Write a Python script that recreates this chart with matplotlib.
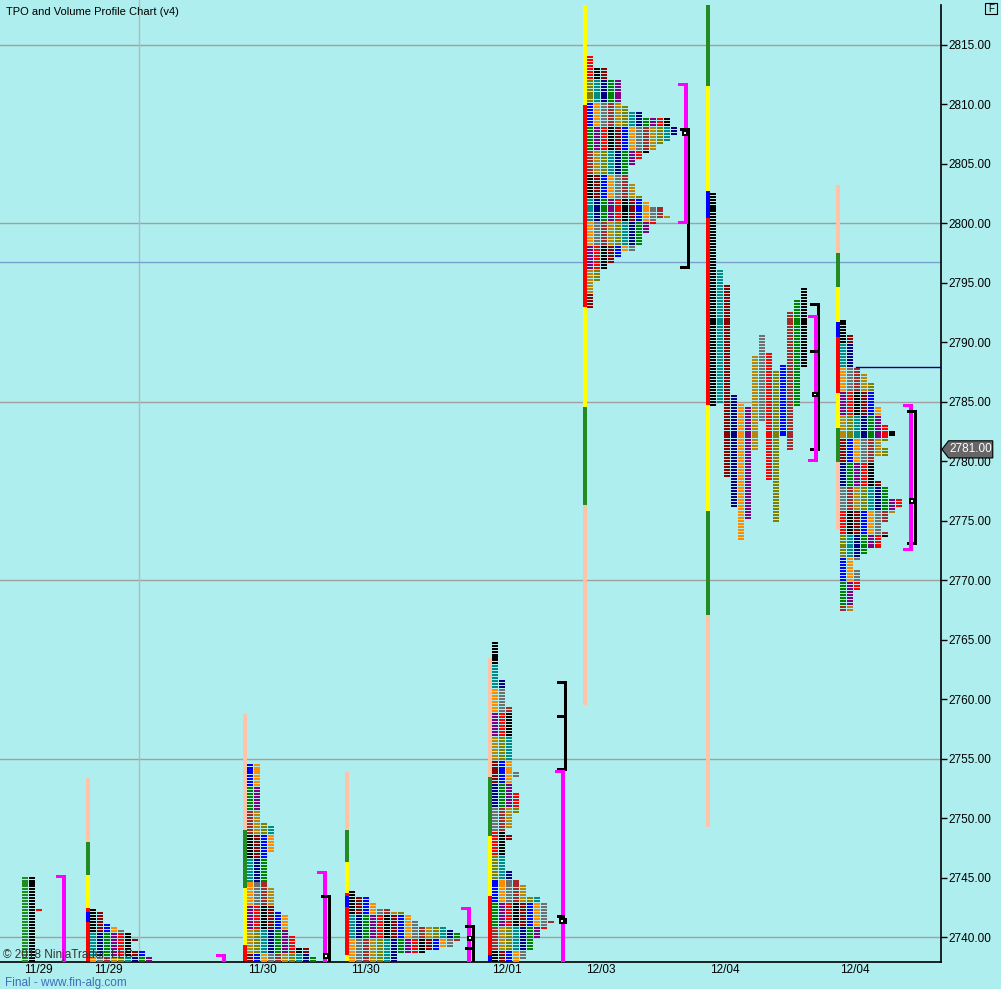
import matplotlib.pyplot as plt
from matplotlib.patches import Polygon, Rectangle
from matplotlib.transforms import blended_transform_factory

plt.rcParams['font.family'] = ['Liberation Sans', 'DejaVu Sans']

BG = '#AFEEEE'
PEACH, GREEN, YELLOW, RED, BLUE = '#FFC4A8', '#228B22', '#FFFF00', '#FF0000', '#0000FF'
MAGENTA = '#FF00FF'

# colours used for the TPO letters (periods)
tpo_colors = ['#000080', '#707070', '#FF0000', '#808000', '#0000FF', '#008000', '#A52A2A',
              '#000000', '#008B8B', '#FF8C00', '#800080', '#B8860B', '#8B0000']

# session labels on the time axis
date_labels = ['11/29', '11/29', '11/30', '11/30', '12/01', '12/03', '12/04', '12/04']
date_x = [38, 108, 262, 365, 507, 601, 725, 855]

# price axis
price_ticks = list(range(2740, 2816, 5))
grid_levels = [2740, 2755, 2770, 2785, 2800, 2815]
level_line = 2796.75
last_price = 2781.00

# session range bars (hi, lo, colour)
bar_1129b = [(2753.4, 2748.0, PEACH), (2748.0, 2745.2, GREEN), (2745.2, 2742.45, YELLOW),
             (2742.45, 2742.1, RED), (2742.1, 2741.25, BLUE), (2741.25, 2737.0, RED)]
bar_1130a = [(2758.75, 2749.0, PEACH), (2749.0, 2744.1, GREEN), (2744.1, 2739.35, YELLOW),
             (2739.35, 2737.0, RED)]
bar_1130b = [(2753.9, 2749.0, PEACH), (2749.0, 2746.3, GREEN), (2746.3, 2743.7, YELLOW),
             (2743.7, 2743.45, RED), (2743.45, 2742.5, BLUE), (2742.5, 2738.5, RED),
             (2738.5, 2737.0, YELLOW)]
bar_1201 = [(2763.45, 2753.45, PEACH), (2753.45, 2748.5, GREEN), (2748.5, 2743.45, YELLOW),
            (2743.45, 2738.5, RED), (2738.5, 2737.0, BLUE)]
bar_1203 = [(2818.4, 2809.95, YELLOW), (2809.95, 2793.0, RED), (2793.0, 2784.6, YELLOW),
            (2784.6, 2776.3, GREEN), (2776.3, 2759.5, PEACH)]
bar_1204a = [(2818.4, 2811.55, GREEN), (2811.55, 2802.7, YELLOW), (2802.7, 2800.45, BLUE),
             (2800.45, 2784.7, RED), (2784.7, 2775.8, YELLOW), (2775.8, 2767.1, GREEN),
             (2767.1, 2749.25, PEACH)]
bar_1204b = [(2803.2, 2797.5, PEACH), (2797.5, 2794.65, GREEN), (2794.65, 2791.7, YELLOW),
             (2791.7, 2790.45, BLUE), (2790.45, 2785.75, RED), (2785.75, 2782.8, YELLOW),
             (2782.8, 2779.95, GREEN), (2779.95, 2774.2, PEACH)]

# collapsed TPO profiles: (price hi, price lo, letters per row)
prof_1129b = [(2742.25, 2742.25, 1), (2742.0, 2741.25, 2), (2741.0, 2741.0, 3), (2740.75, 2740.75, 4),
              (2740.5, 2740.5, 5), (2740.25, 2740.0, 6), (2739.75, 2739.75, 7), (2739.5, 2739.0, 6),
              (2738.75, 2738.5, 8), (2738.25, 2738.0, 9)]
prof_1130a = [(2754.5, 2749.75, 2), (2749.5, 2749.5, 3), (2749.25, 2747.25, 4), (2747.0, 2744.25, 3),
              (2744.0, 2742.25, 4), (2742.0, 2742.0, 5), (2741.75, 2740.25, 6), (2740.0, 2739.25, 7),
              (2739.0, 2738.5, 9), (2738.25, 2738.0, 10)]
prof_1130b = [(2743.75, 2743.5, 1), (2743.25, 2743.0, 3), (2742.75, 2742.5, 4), (2742.25, 2742.25, 6),
              (2742.0, 2742.0, 8), (2741.75, 2741.5, 9), (2741.25, 2741.0, 10), (2740.75, 2740.75, 14),
              (2740.5, 2740.5, 15), (2740.25, 2739.75, 16), (2739.5, 2739.25, 15), (2739.0, 2739.0, 13),
              (2738.75, 2738.75, 11), (2738.5, 2738.0, 7)]
prof_1201 = [(2764.75, 2761.75, 1), (2761.5, 2759.5, 2), (2759.25, 2754.0, 3), (2753.75, 2753.5, 4),
             (2753.25, 2752.25, 3), (2752.0, 2750.5, 4), (2750.25, 2749.25, 3), (2749.0, 2748.75, 2),
             (2748.5, 2748.25, 3), (2748.0, 2745.75, 2), (2745.5, 2745.0, 3), (2744.75, 2744.5, 4),
             (2744.25, 2743.5, 5), (2743.25, 2743.0, 7), (2742.75, 2741.5, 8), (2741.25, 2741.25, 9),
             (2741.0, 2740.75, 8), (2740.5, 2740.0, 7), (2739.75, 2739.0, 6), (2738.75, 2738.25, 5),
             (2738.0, 2738.0, 4)]
prof_1203 = [(2814.0, 2813.25, 1), (2813.0, 2812.25, 3), (2812.0, 2810.0, 5), (2809.75, 2809.5, 6),
             (2809.25, 2809.0, 8), (2808.75, 2808.25, 12), (2808.0, 2807.5, 13), (2807.25, 2807.0, 12),
             (2806.75, 2806.75, 11), (2806.5, 2806.25, 10), (2806.0, 2806.0, 9), (2805.75, 2805.5, 8),
             (2805.25, 2805.0, 7), (2804.75, 2803.5, 6), (2803.25, 2802.5, 7), (2802.25, 2802.0, 8),
             (2801.75, 2801.5, 9), (2801.25, 2800.75, 11), (2800.5, 2800.5, 12), (2800.25, 2800.0, 10),
             (2799.75, 2799.25, 9), (2799.0, 2798.25, 8), (2798.0, 2797.75, 7), (2797.5, 2797.25, 5),
             (2797.0, 2796.75, 4), (2796.5, 2796.25, 3), (2796.0, 2795.25, 2), (2795.0, 2793.0, 1)]
prof_1204b = [(2791.75, 2790.75, 1), (2790.5, 2788.0, 2), (2787.75, 2787.5, 3), (2787.25, 2786.75, 4),
              (2786.5, 2784.75, 5), (2784.5, 2783.25, 6), (2783.0, 2782.75, 7), (2782.5, 2782.25, 8),
              (2782.0, 2781.75, 7), (2781.5, 2781.25, 6), (2781.0, 2780.5, 7), (2780.25, 2778.5, 5),
              (2778.25, 2778.0, 6), (2777.75, 2777.0, 7), (2776.75, 2776.25, 9), (2776.0, 2775.75, 8),
              (2775.5, 2775.0, 7), (2774.75, 2774.25, 6), (2774.0, 2773.75, 7), (2773.5, 2772.75, 6),
              (2772.5, 2772.25, 4), (2772.0, 2771.75, 3), (2771.5, 2771.0, 2), (2770.75, 2769.25, 3),
              (2769.0, 2767.5, 2)]

# split profiles: one column per period (colour, hi, lo)
split_1129a = [('#228B22', 2745.0, 2738.0), ('#000000', 2745.0, 2738.0), ('#FF0000', 2742.25, 2742.25)]
split_1204a = [('#000000', 2802.5, 2784.75), ('#008B8B', 2796.0, 2785.0), ('#8B0000', 2794.75, 2778.75),
               ('#000080', 2785.5, 2776.25), ('#FF8C00', 2784.75, 2773.5), ('#800080', 2784.5, 2775.25),
               ('#B8860B', 2788.75, 2781.0), ('#707070', 2790.5, 2783.5), ('#FF0000', 2789.0, 2778.5),
               ('#808000', 2787.5, 2775.0), ('#0000FF', 2788.0, 2782.25), ('#A52A2A', 2792.5, 2781.0),
               ('#008000', 2793.5, 2784.75), ('#000000', 2794.5, 2788.0)]

# value area brackets (TPO, magenta)
va_x = [62, 222, 323, 467, 561, 684, 814, 909]
va_hi = [2745.2, 2738.6, 2745.55, 2742.5, 2754.05, 2811.8, 2792.3, 2784.8]
va_lo = [2737.0, 2737.0, 2737.0, 2737.0, 2737.0, 2799.95, 2779.9, 2772.45]

# volume value area (black), extra ticks and POC
vol_x = [327, 471, 563, 686, 816, 913]
vol_hi = [2743.5, 2741.0, 2761.5, 2808.0, 2793.3, 2784.3]
vol_lo = [2737.0, 2737.0, 2754.0, 2796.15, 2780.85, 2772.95]
vol_poc = [2738.4, 2739.9, 2741.35, 2807.6, 2785.6, 2776.65]
vol_ticks = [[], [2739.0], [2758.5, 2741.7], [], [2789.2], []]

fig = plt.figure(figsize=(10.01, 9.89), dpi=100, facecolor=BG)
ax = fig.add_axes([0, 27 / 989, 941 / 1001, 962 / 989])
ax.set_facecolor(BG)
ax.set_xlim(0, 941)
ax.set_ylim(2737.9, 2818.78)

for lv in grid_levels:
    ax.axhline(lv, color='#A0A0A0', lw=1, zorder=0)
ax.axvline(139, color='#B8B8B8', lw=1, zorder=0)
ax.axhline(level_line, color='#7D9FCC', lw=1, zorder=0)

ROW = 0.25
BLK = 0.17


def draw_bar(x, segs):
    for hi, lo, col in segs:
        ax.bar(x, hi - lo, width=4, bottom=lo, align='edge', color=col, linewidth=0, zorder=2)


def draw_profile(x0, segs, base):
    # letters shift one period to the right every two points down the profile
    top = segs[0][0]
    xs, ys, cs = [], [], []
    for hi, lo, w in segs:
        n = int(round((hi - lo) / ROW)) + 1
        for r in range(n):
            p = hi - ROW * r
            band = int((top - p) // 2.0)
            for c in range(w):
                xs.append(x0 + 7 * c)
                ys.append(p - BLK / 2)
                cs.append(tpo_colors[(base + c * 5 + band) % len(tpo_colors)])
    ax.bar(xs, BLK, width=6, bottom=ys, align='edge', color=cs, linewidth=0,
           antialiased=False, zorder=3)


def draw_split(x0, periods):
    xs, ys, cs = [], [], []
    for c, (col, hi, lo) in enumerate(periods):
        n = int(round((hi - lo) / ROW)) + 1
        for r in range(n):
            xs.append(x0 + 7 * c)
            ys.append(hi - ROW * r - BLK / 2)
            cs.append(col)
    ax.bar(xs, BLK, width=6, bottom=ys, align='edge', color=cs, linewidth=0,
           antialiased=False, zorder=3)


draw_split(22, split_1129a)
draw_bar(86, bar_1129b)
draw_profile(90, prof_1129b, 7)
draw_bar(243, bar_1130a)
draw_profile(247, prof_1130a, 4)
draw_bar(345, bar_1130b)
draw_profile(349, prof_1130b, 7)
draw_bar(488, bar_1201)
draw_profile(492, prof_1201, 7)
draw_bar(583, bar_1203)
draw_profile(587, prof_1203, 2)
draw_bar(706, bar_1204a)
draw_split(710, split_1204a)
draw_bar(836, bar_1204b)
draw_profile(840, prof_1204b, 7)

# volume value area lines
for x, hi, lo in zip(vol_x, vol_hi, vol_lo):
    ax.bar(x + 1, hi - lo, width=3, bottom=lo, align='edge', color='black', linewidth=0, zorder=4)

# TPO value area brackets
for x, hi, lo in zip(va_x, va_hi, va_lo):
    ax.bar(x, hi - lo, width=4, bottom=lo, align='edge', color=MAGENTA, linewidth=0, zorder=5)
    ax.bar(x - 6, 0.25, width=10, bottom=hi - 0.25, align='edge', color=MAGENTA, linewidth=0, zorder=5)
    ax.bar(x - 6, 0.25, width=10, bottom=lo, align='edge', color=MAGENTA, linewidth=0, zorder=5)

# volume caps, ticks and POC boxes
for x, hi, lo, poc, tks in zip(vol_x, vol_hi, vol_lo, vol_poc, vol_ticks):
    ax.bar(x - 6, 0.25, width=8, bottom=hi - 0.25, align='edge', color='black', linewidth=0, zorder=6)
    ax.bar(x - 6, 0.25, width=8, bottom=lo, align='edge', color='black', linewidth=0, zorder=4)
    for tk in tks:
        ax.bar(x - 6, 0.25, width=8, bottom=tk - 0.125, align='edge', color='black', linewidth=0, zorder=6)
    ax.bar(x - 4, 0.45, width=8, bottom=poc - 0.225, align='edge', color='black', linewidth=0, zorder=6)
    ax.bar(x - 2, 0.12, width=2, bottom=poc - 0.06, align='edge', color='white', linewidth=0, zorder=7)

# developing POC line
ax.plot([856, 941], [2787.9, 2787.9], color='#000080', lw=1, zorder=4)

# axes
for side in ['left', 'top']:
    ax.spines[side].set_visible(False)
ax.spines['right'].set_bounds(2737.9, 2818.36)
ax.spines['right'].set_linewidth(1.2)
ax.spines['bottom'].set_linewidth(1.2)
ax.yaxis.tick_right()
ax.set_yticks(price_ticks)
ax.set_yticklabels([f'{v:.2f}' for v in price_ticks])
ax.tick_params(axis='y', length=4, width=1, pad=1, labelsize=8.5)
ax.set_xticks(date_x)
ax.set_xticklabels(date_labels)
ax.tick_params(axis='x', length=0, pad=1.5, labelsize=8.5)

# last price marker
tr = blended_transform_factory(ax.transAxes, ax.transData)
ax.add_patch(Polygon([(1.001, last_price), (1.008, last_price + 0.72), (1.055, last_price + 0.72),
                      (1.055, last_price - 0.72), (1.008, last_price - 0.72)], closed=True,
                     transform=tr, facecolor='#666666', edgecolor='black', lw=0.8,
                     clip_on=False, zorder=10))
ax.text(1.032, last_price, f'{last_price:.2f}', transform=tr, color='white', fontsize=8.5,
        ha='center', va='center', clip_on=False, zorder=11)

fig.text(6 / 1001, 1 - 12 / 989, 'TPO and Volume Profile Chart (v4)', fontsize=8, va='center', ha='left')
# small "F" box in the top right corner
fig.patches.append(Rectangle((985 / 1001, 1 - 14 / 989), 12 / 1001, 11 / 989, transform=fig.transFigure,
                             fill=False, edgecolor='black', lw=0.8))
fig.text(991 / 1001, 1 - 8.5 / 989, 'F', fontsize=7, va='center', ha='center')
fig.text(3 / 1001, 1 - 955 / 989, '\u00a9 2018 NinjaTrader, LLC', fontsize=8.5, va='center',
         ha='left', color='#333333', zorder=20)
fig.text(5 / 1001, 1 - 983 / 989, 'Final - www.fin-alg.com', fontsize=8.5, va='center', ha='left',
         color='#3A70B8')

fig.savefig('out.png', dpi=100, facecolor=BG)
